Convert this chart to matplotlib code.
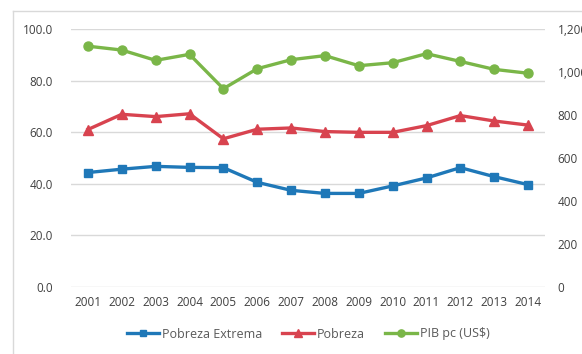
import matplotlib
matplotlib.use("Agg")
import matplotlib.pyplot as plt
from matplotlib.lines import Line2D

years = ["2001", "2002", "2003", "2004", "2005", "2006", "2007",
         "2008", "2009", "2010", "2011", "2012", "2013", "2014"]
pobreza_extrema = [44.3, 45.6, 46.7, 46.3, 46.2, 40.5, 37.4,
                   36.2, 36.2, 39.1, 42.2, 46.2, 42.7, 39.6]
pobreza = [61.0, 66.9, 66.0, 67.1, 57.4, 61.1, 61.6,
           60.2, 59.9, 59.9, 62.5, 66.4, 64.3, 62.7]
pib_pc = [1120, 1102, 1054, 1082, 922, 1015, 1057,
          1076, 1029, 1043, 1085, 1049, 1012, 994]
left_ticks = [0, 20, 40, 60, 80, 100]
right_ticks = [0, 200, 400, 600, 800, 1000, 1200]

blue = "#1f78b8"
red = "#d8434f"
green = "#7ab648"
text_col = "#404040"

plt.rcParams["font.family"] = ["Open Sans", "DejaVu Sans"]
plt.rcParams["font.size"] = 8.5

fig = plt.figure(figsize=(5.82, 3.54), dpi=100)
ax = fig.add_axes([71 / 582, 1 - 286.7 / 354, (545 - 71) / 582, (286.7 - 29) / 354])
ax2 = ax.twinx()

x = list(range(len(years)))
ax.plot(x, pobreza_extrema, color=blue, lw=2.4, marker="s", ms=6,
        label="Pobreza Extrema", zorder=3)
ax.plot(x, pobreza, color=red, lw=2.4, marker="^", ms=6.5,
        label="Pobreza", zorder=3)
ax2.plot(x, pib_pc, color=green, lw=2.4, marker="o", ms=6.5,
         label="PIB pc (US$)", zorder=3)

ax.set_xlim(-0.5, len(years) - 0.5)
ax.set_ylim(0, 100)
ax2.set_ylim(0, 1200)
ax.set_xticks(x)
ax.set_xticklabels(years)
ax.set_yticks(left_ticks)
ax.set_yticklabels([f"{v:.1f}" for v in left_ticks])
ax2.set_yticks(right_ticks)
ax2.set_yticklabels([f"{v:,}" for v in right_ticks])

for a in (ax, ax2):
    for s in a.spines.values():
        s.set_visible(False)
ax.yaxis.grid(True, color="#d9d9d9", lw=1.0)
ax.set_axisbelow(True)
ax.tick_params(axis="y", length=0, pad=13, colors=text_col)
ax.tick_params(axis="x", length=0, pad=7, colors=text_col)
ax2.tick_params(axis="y", length=0, pad=9, colors=text_col)
ax2.set_zorder(ax.get_zorder() + 1)
ax2.patch.set_visible(False)

# outer chart frame (left and top edges)
fig.add_artist(Line2D([13 / 582, 13 / 582], [0, 1 - 11 / 354], color="#d9d9d9", lw=1.0))
fig.add_artist(Line2D([13 / 582, 1], [1 - 11 / 354, 1 - 11 / 354], color="#d9d9d9", lw=1.0))

h1, l1 = ax.get_legend_handles_labels()
h2, l2 = ax2.get_legend_handles_labels()
leg = fig.legend(h1 + h2, l1 + l2, loc="center", bbox_to_anchor=(308 / 582, 1 - 334 / 354),
                 ncol=3, frameon=False, handlelength=2.6, handletextpad=0.2,
                 columnspacing=1.6, fontsize=9, markerscale=0.8)
for t in leg.get_texts():
    t.set_color("#595959")

fig.savefig("out.png", dpi=100)
